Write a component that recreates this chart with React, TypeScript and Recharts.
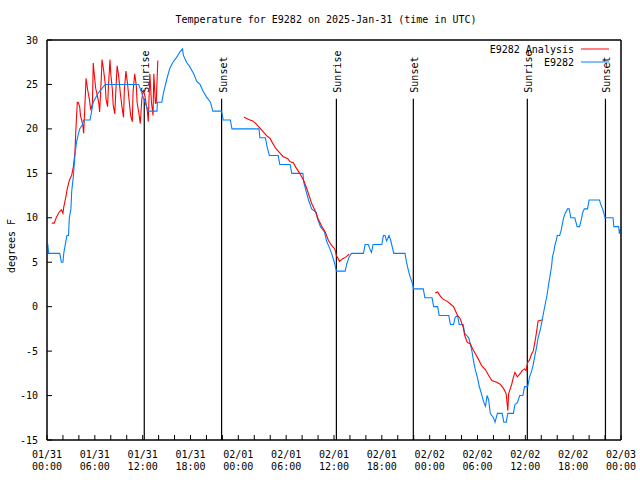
import { LineChart, Line, XAxis, YAxis, ReferenceLine, ReferenceArea, Legend } from "recharts";

const FONT = "'DejaVu Sans Mono', monospace";
const RED = "#ff0000";
const BLUE = "#0080ff";

// hours since 01/31 00:00 UTC
const obsHours = [
  0, 0.1, 0.2, 1.6, 1.8, 2.0, 2.1, 2.3, 2.5, 2.7, 2.8, 3.0, 3.1, 3.3, 3.5, 3.7, 3.9, 4.1, 4.4, 4.6,
  5.4, 5.6, 5.8, 6.4, 7.3, 11.5, 11.7, 11.9, 12.3, 12.7, 13.8, 13.85, 14.4, 14.6, 15.0, 15.4, 15.8,
  16.3, 16.7, 17.0, 17.1, 17.5, 17.9, 18.4, 18.8, 19.2, 19.6, 20.0, 20.5, 20.8, 21.9, 22.1, 23.0,
  23.2, 26.6, 26.7, 27.4, 27.6, 27.9, 29.0, 29.2, 30.5, 30.7, 32.1, 32.2, 32.5, 32.8, 33.2, 33.8,
  33.9, 34.3, 34.8, 35.1, 35.4, 35.7, 36.1, 36.3, 37.4, 37.6, 37.9, 38.2, 39.7, 39.9, 40.3, 40.5,
  40.7, 40.9, 42.0, 42.2, 42.4, 42.6, 42.9, 43.1, 43.5, 44.9, 45.1, 45.3, 45.5, 45.8, 46.0, 47.2,
  47.4, 48.3, 48.5, 49.0, 49.2, 50.4, 50.6, 51.0, 51.2, 51.5, 51.7, 52.2, 52.4, 52.9, 53.1, 53.3,
  53.5, 53.7, 54.0, 54.2, 54.5, 54.8, 55.0, 55.2, 55.4, 55.6, 56.0, 56.2, 56.5, 57.1, 57.3, 57.6,
  57.8, 58.5, 58.7, 59.0, 59.3, 59.7, 59.9, 60.3, 60.5, 60.8, 61.0, 61.2, 61.4, 61.6, 61.9, 62.1,
  62.3, 62.5, 62.7, 62.9, 63.1, 63.3, 63.4, 63.6, 63.7, 63.9, 64.0, 64.3, 64.5, 64.6, 64.8, 65.0,
  65.3, 65.5, 65.7, 66.2, 66.5, 66.8, 67.0, 67.2, 67.4, 67.8, 68.0, 69.3, 69.5, 69.7, 70.0, 71.0,
  71.1, 71.7, 71.8, 71.9,
];
const obsTemps = [
  7, 7, 6, 6, 5, 5, 6, 7, 8, 8, 10, 11, 13, 14.6, 17, 18.5, 19.3, 20, 20.4, 21,
  21, 22, 23, 24, 25, 25, 24.5, 24, 23, 22, 22, 23, 23, 24, 25.5, 26.8, 27.5,
  28.1, 28.7, 29, 28.3, 27.5, 27, 26.2, 25.3, 25, 24.2, 23.6, 23, 22, 22, 21, 21,
  20, 20, 19, 19, 18, 17, 17, 16, 16, 15, 15, 14, 13, 12, 11, 10.6,
  10, 9, 8.4, 7.3, 6.7, 6, 4.8, 4, 4, 4.8, 5.6, 6, 6, 7, 7, 6.5,
  6.1, 7, 7, 8, 8, 7.4, 8, 7.5, 6, 6, 5, 4.2, 3.5, 2.7, 2, 2,
  1, 1, 0, 0, -1, -1, -2, -2, -1.2, -1, -2, -2, -3, -3.5, -4.2, -5,
  -6.1, -7, -8, -8.9, -9.8, -10.8, -11.2, -10, -10.5, -12, -12.5, -13, -12, -12, -13, -13,
  -12, -12, -11, -10.8, -10, -10, -9, -9, -8, -7.2, -6.5, -5.5, -4.6, -3.5, -2.5, -1.6,
  -0.6, 0.3, 1.2, 2.4, 3.5, 4.6, 5.6, 6.3, 6.9, 7.5, 8, 8, 8.6, 9.1, 10, 10.5,
  11, 11, 10, 10, 9, 9, 9.7, 10.6, 11, 11, 12, 12, 11.4, 11, 10, 10,
  9, 9, 8.2, 8.7,
];

const anaHours1 = [
  0.6, 0.9, 1.2, 1.5, 1.8, 2.0, 2.1, 2.4, 2.5, 2.8, 3.1, 3.3, 3.5, 3.6, 3.8, 3.9, 4.1, 4.2, 4.4,
  4.5, 4.6, 4.8, 4.9, 5.1, 5.3, 5.5, 5.7, 5.8, 5.9, 6.1, 6.3, 6.5, 6.6, 6.8, 6.9, 7.1, 7.3, 7.4,
  7.6, 7.7, 7.9, 8.0, 8.2, 8.3, 8.5, 8.7, 8.8, 9.0, 9.2, 9.4, 9.6, 9.7, 9.9, 10.1, 10.3, 10.5,
  10.7, 10.8, 11.0, 11.2, 11.3, 11.5, 11.7, 11.9, 12.1, 12.3, 12.6, 12.7, 12.9, 13.1, 13.3, 13.4,
  13.6, 13.7, 13.9,
];
const anaTemps1 = [
  9.4, 9.4, 10.1, 10.6, 10.9, 10.5, 11.2, 12.5, 13.1, 14.2, 14.8, 15.7, 17.2, 19.5, 23, 23, 22.5,
  21.5, 20.8, 20.4, 19.5, 23.6, 25.7, 24.4, 23.4, 22.1, 22.9, 27.4, 26.4, 24.6, 23.8, 22.9, 21.9,
  25.5, 27.8, 26.6, 25.1, 23.4, 22.5, 24.7, 27.8, 26.2, 24.4, 22.7, 21.7, 25.5, 27.1, 25.9, 24,
  22.5, 21.3, 24.4, 26.5, 25.1, 23.2, 21.5, 20.8, 24.2, 26.2, 24.9, 23, 21.9, 20.6, 23.4, 24.4,
  23.6, 21.9, 20.8, 26.2, 23, 21.5, 26.2, 22.9, 22.9, 27.7,
];
const anaHours2 = [
  24.7, 25.3, 25.8, 26.2, 26.6, 27.1, 27.6, 28.0, 28.3, 28.7, 29.2, 29.6, 30.2, 30.5, 30.9, 31.2,
  31.7, 32.2, 32.5, 32.8, 33.2, 33.6, 34.0, 34.5, 34.9, 35.3, 35.7, 36.1, 36.3, 36.7, 37.1, 37.5,
  37.9,
];
const anaTemps2 = [
  21.3, 21.05, 20.9, 20.6, 20.2, 19.7, 19.2, 18.9, 18.4, 17.8, 17.3, 16.9, 16.65, 16.3, 16.2, 15.7,
  15, 14.2, 13.5, 12.7, 11.6, 10.85, 9.9, 9, 8.4, 7.45, 6.9, 6.5, 5.75, 5.1, 5.4, 5.6,
  5.9,
];
const anaHours3 = [
  48.7, 49.0, 49.3, 49.6, 50.2, 50.6, 51.0, 51.3, 51.5, 51.8, 52.2, 52.4, 52.7, 53.1, 53.4, 53.7,
  54.1, 54.5, 55.0, 55.4, 55.8, 56.4, 56.8, 57.3, 57.6, 57.8, 57.9, 58.1, 58.3, 58.5, 58.7, 59.0,
  59.3, 59.6, 59.9, 60.1, 60.3, 60.5, 60.8, 61.0, 61.2, 61.4, 61.6, 62.1,
];
const anaTemps3 = [
  1.55, 1.65, 1.25, 0.9, 0.6, 0.3, 0, -0.6, -1, -1.3, -2.3, -3.25, -4, -4.2, -4.75, -5.25,
  -5.9, -6.6, -7.1, -7.75, -8.3, -8.5, -8.7, -9.25, -9.8, -11.7, -9.8, -9.25, -8.7, -7.95, -7.4, -7.9,
  -7.6, -7.2, -7.0, -7.2, -6.25, -6.05, -5.3, -4.95, -4.0, -2.9, -1.6, -1.5,
];

const sunHours = [12.2, 21.9, 36.3, 45.95, 60.25, 70.05];
const sunLabels = ["Sunrise", "Sunset", "Sunrise", "Sunset", "Sunrise", "Sunset"];
const SUN_LINE_TOP = 23.4;

const xTicks = [
  0, 2, 4, 6, 8, 10, 12, 14, 16, 18, 20, 22, 24, 26, 28, 30, 32, 34, 36, 38, 40, 42, 44, 46, 48,
  50, 52, 54, 56, 58, 60, 62, 64, 66, 68, 70, 72,
];
const majorHours = [0, 6, 12, 18, 24, 30, 36, 42, 48, 54, 60, 66, 72];
const majorDates = ["01/31", "01/31", "01/31", "01/31", "02/01", "02/01", "02/01", "02/01", "02/02", "02/02", "02/02", "02/02", "02/03"];
const majorTimes = ["00:00", "06:00", "12:00", "18:00", "00:00", "06:00", "12:00", "18:00", "00:00", "06:00", "12:00", "18:00", "00:00"];
const yTicks = [-15, -10, -5, 0, 5, 10, 15, 20, 25, 30];

const seriesNames = ["E9282 Analysis", "E9282"];

const zip = (hs, ts) => hs.map((h, i) => ({ h, t: ts[i] }));
const obsData = zip(obsHours, obsTemps);
const ana1 = zip(anaHours1, anaTemps1);
const ana2 = zip(anaHours2, anaTemps2);
const ana3 = zip(anaHours3, anaTemps3);

const txt = { fontFamily: FONT, fontSize: 10, fill: "#000" };

const BottomTick = ({ x, y, payload }) => {
  const i = majorHours.indexOf(payload.value);
  return (
    <g>
      <line x1={x} y1={y} x2={x} y2={y - 5} stroke="#000" />
      {i >= 0 && (
        <text textAnchor="middle" style={txt}>
          <tspan x={x} y={y + 18}>{majorDates[i]}</tspan>
          <tspan x={x} y={y + 30}>{majorTimes[i]}</tspan>
        </text>
      )}
    </g>
  );
};

const TopTick = ({ x, y }) => <line x1={x} y1={y} x2={x} y2={y + 5} stroke="#000" />;

const LeftTick = ({ x, y, payload }) => (
  <g>
    <line x1={x} y1={y} x2={x + 5} y2={y} stroke="#000" />
    <text x={x - 9} y={y + 3.5} textAnchor="end" style={txt}>
      {payload.value}
    </text>
  </g>
);

const RightTick = ({ x, y }) => <line x1={x} y1={y} x2={x - 5} y2={y} stroke="#000" />;

const sunLabel = (text) => (props) => {
  const vb = props.viewBox;
  const lx = vb.x + 5;
  const ly = vb.y - 6;
  return (
    <text x={lx} y={ly} transform={`rotate(-90 ${lx} ${ly})`} style={txt}>
      {text}
    </text>
  );
};

const renderLegend = (props) => {
  const items = seriesNames
    .map((n) => (props.payload || []).find((p) => p.value === n))
    .filter(Boolean);
  return (
    <svg width={160} height={30}>
      {items.map((it, i) => (
        <g key={it.value}>
          <text x={104} y={11 + i * 13} textAnchor="end" style={txt}>
            {it.value}
          </text>
          <line x1={111} x2={139} y1={7 + i * 13} y2={7 + i * 13} stroke={it.color} />
        </g>
      ))}
    </svg>
  );
};

export default function App() {
  return (
    <div style={{ position: "absolute", left: 0, top: 0, background: "#fff" }}>
      <LineChart
        width={640}
        height={480}
        margin={{ top: 39, right: 0, bottom: 0, left: 0 }}
        style={{ fontFamily: FONT }}
      >
        <XAxis
          dataKey="h"
          type="number"
          domain={[0, 72]}
          ticks={xTicks}
          interval={0}
          height={40}
          tickSize={0}
          tickMargin={0}
          tick={BottomTick}
          stroke="#000"
          allowDataOverflow
        />
        <XAxis
          xAxisId="top"
          orientation="top"
          type="number"
          domain={[0, 72]}
          ticks={xTicks}
          interval={0}
          height={1}
          tickSize={0}
          tickMargin={0}
          tick={TopTick}
          stroke="#000"
          label={(p) => {
            const vb = p.viewBox;
            return (
              <g>
                <text x={vb.x + vb.width / 2 - 8} y={vb.y - 16} textAnchor="middle" style={txt}>
                  Temperature for E9282 on 2025-Jan-31 (time in UTC)
                </text>
                <text x={15} y={246} transform="rotate(-90 15 246)" textAnchor="middle" style={txt}>
                  degrees F
                </text>
              </g>
            );
          }}
        />
        <YAxis
          type="number"
          domain={[-15, 30]}
          ticks={yTicks}
          interval={0}
          width={47}
          tickSize={0}
          tickMargin={0}
          tick={LeftTick}
          stroke="#000"
        />
        <YAxis
          yAxisId="r"
          orientation="right"
          type="number"
          domain={[-15, 30]}
          ticks={yTicks}
          interval={0}
          width={19}
          tickSize={0}
          tickMargin={0}
          tick={RightTick}
          stroke="#000"
        />
        <ReferenceArea
          x1={0}
          x2={72}
          y1={-15}
          y2={30}
          fill="none"
          fillOpacity={0}
          stroke="#000"
          strokeWidth={1}
        />
        {sunHours.map((h, i) => (
          <ReferenceLine
            key={"sun" + i}
            segment={[
              { x: h, y: -15 },
              { x: h, y: SUN_LINE_TOP },
            ]}
            stroke="#000"
            strokeWidth={1.2}
            label={sunLabel(sunLabels[i])}
          />
        ))}
        <Line
          data={ana1}
          dataKey="t"
          name={seriesNames[0]}
          type="linear"
          stroke={RED}
          strokeWidth={1.1}
          dot={false}
          isAnimationActive={false}
        />
        <Line
          data={obsData}
          dataKey="t"
          name={seriesNames[1]}
          type="linear"
          stroke={BLUE}
          strokeWidth={1.1}
          dot={false}
          isAnimationActive={false}
        />
        <Line
          data={ana2}
          dataKey="t"
          name="ana2"
          legendType="none"
          type="linear"
          stroke={RED}
          strokeWidth={1.1}
          dot={false}
          isAnimationActive={false}
        />
        <Line
          data={ana3}
          dataKey="t"
          name="ana3"
          legendType="none"
          type="linear"
          stroke={RED}
          strokeWidth={1.1}
          dot={false}
          isAnimationActive={false}
        />
        <Legend
          layout="horizontal"
          verticalAlign="middle"
          align="center"
          width={160}
          content={renderLegend}
          wrapperStyle={{ left: 470, top: 42, width: 160, height: 30 }}
        />
      </LineChart>
    </div>
  );
}
